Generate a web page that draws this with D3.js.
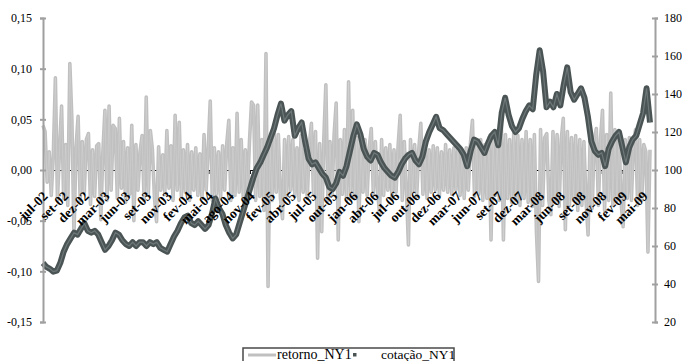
<!DOCTYPE html>
<html>
<head>
<meta charset="utf-8">
<script src="https://cdn.jsdelivr.net/npm/d3@7/dist/d3.min.js"></script>
<style>
  body { margin: 0; background: #fff; }
  svg text { font-family: "Liberation Serif", "Times New Roman", "DejaVu Serif", serif; }
</style>
</head>
<body>
<svg id="chart" width="682" height="361"></svg>
<script>
// category labels, one every 60 trading days
const labels = ["jul-02", "set-02", "dez-02", "mar-03", "jun-03", "set-03", "nov-03", "fev-04",
  "mai-04", "ago-04", "nov-04", "fev-05", "abr-05", "jul-05", "out-05", "jan-06", "abr-06",
  "jul-06", "out-06", "dez-06", "mar-07", "jun-07", "set-07", "dez-07", "mar-08", "jun-08",
  "set-08", "nov-08", "fev-09", "mai-09"];
const labelStep = 60;
const priceStep = 10; // cotacao read every 10 trading days

// cotação_NY1 (right axis)
const cotacao = [51, 49, 48, 46.5, 47, 51, 57, 61, 64, 67,
  66, 69, 72, 68, 67, 68, 66, 62, 58, 60,
  63, 67, 66, 63, 61, 60, 62, 60, 62, 62,
  60, 62, 61, 62, 59, 58, 57, 61, 65, 68,
  72, 75, 76, 72, 71, 73, 71, 69, 71, 77,
  85, 80, 77, 71, 67, 64, 66, 72, 78, 84,
  90, 96, 101, 104, 108, 112, 117, 122, 129, 135,
  126, 129, 131, 118, 122, 125, 115, 106, 103, 104,
  101, 98, 96, 91, 90, 93, 99, 97, 102, 110,
  118, 124, 119, 111, 107, 105, 109, 108, 104, 101,
  99, 97, 96, 99, 103, 106, 108, 109, 105, 103,
  107, 115, 120, 124, 128, 122, 121, 119, 117, 115,
  113, 111, 108, 102, 110, 116, 115, 112, 109, 114,
  118, 120, 113, 130, 138, 129, 123, 120, 122, 127,
  131, 134, 132, 150, 163, 152, 133, 136, 133, 140,
  134, 145, 154, 141, 137, 140, 143, 138, 128, 115,
  110, 108, 109, 102, 111, 115, 118, 120, 112, 104,
  112, 116, 118, 124, 130, 143, 125];

// retorno_NY1 (left axis), read over the same period
const retorno = [0.044, 0.038, -0.012, 0.018, -0.025, 0.015, 0.091, -0.03, 0.02, 0.063,
  -0.028, 0.025, -0.035, 0.105, 0.049, -0.065, 0.022, 0.053, -0.03, 0.028,
  -0.022, 0.03, 0.036, -0.034, 0.02, -0.026, 0.024, 0.026, -0.049, 0.018,
  0.059, -0.03, 0.063, -0.02, 0.044, 0.041, -0.028, 0.051, -0.018, 0.028,
  -0.032, 0.022, -0.024, 0.044, -0.05, 0.025, -0.02, 0.018, 0.034, -0.03,
  0.072, -0.025, 0.039, 0.02, -0.028, -0.051, 0.023, -0.02, 0.015, -0.024,
  0.039, -0.018, 0.024, -0.03, 0.054, -0.02, 0.047, -0.026, 0.02, -0.022,
  0.025, -0.03, 0.018, -0.02, 0.022, -0.025, 0.016, -0.028, 0.035, -0.02,
  0.02, 0.068, -0.03, 0.022, -0.024, 0.018, -0.028, 0.024, -0.02, 0.026,
  0.049, -0.03, 0.022, -0.025, 0.056, -0.022, 0.03, -0.028, 0.02, -0.024,
  0.028, 0.067, 0.064, -0.03, 0.064, -0.026, 0.03, -0.04, 0.115, -0.115,
  0.025, -0.03, 0.04, -0.022, 0.035, -0.028, -0.048, 0.03, -0.025, 0.033,
  -0.02, 0.03, -0.026, 0.022, -0.03, 0.034, -0.022, 0.02, -0.028, 0.025,
  0.046, -0.024, 0.038, -0.087, 0.026, -0.061, 0.03, 0.084, -0.03, 0.028,
  -0.025, 0.035, 0.066, -0.069, 0.03, -0.024, 0.04, -0.03, 0.087, -0.026,
  0.059, -0.028, 0.032, -0.051, 0.026, -0.022, 0.03, -0.025, 0.022, 0.041,
  -0.024, 0.028, -0.02, -0.043, 0.03, -0.025, 0.022, -0.02, 0.025, -0.028,
  0.02, -0.022, 0.024, 0.054, -0.03, 0.028, -0.02, -0.074, 0.03, -0.022,
  0.025, -0.026, 0.02, 0.046, -0.024, 0.022, -0.028, 0.02, -0.022, 0.024,
  -0.02, 0.022, -0.026, 0.018, -0.02, 0.025, -0.022, 0.02, -0.024, 0.022,
  -0.02, 0.024, -0.025, 0.02, -0.028, 0.022, -0.02, 0.026, 0.049, -0.026,
  0.028, -0.024, 0.03, -0.03, 0.025, -0.028, 0.032, -0.069, 0.03, -0.025,
  0.028, -0.03, 0.046, -0.069, 0.035, -0.028, 0.03, -0.032, 0.036, -0.03,
  0.034, -0.035, 0.03, -0.028, 0.038, -0.032, 0.03, -0.036, 0.035, -0.061,
  -0.11, 0.04, -0.035, 0.032, 0.036, -0.03, -0.044, 0.038, -0.032, 0.035,
  -0.036, 0.03, 0.051, -0.059, 0.038, -0.035, 0.032, -0.03, 0.034, -0.04,
  0.03, -0.035, 0.028, -0.03, -0.064, 0.032, -0.038, 0.03, 0.041, -0.035,
  0.03, 0.059, -0.04, 0.035, -0.03, 0.076, -0.035, 0.04, -0.03, 0.035,
  -0.032, -0.056, 0.03, -0.028, 0.032, -0.03, 0.028, 0.04, -0.035, 0.03,
  -0.03, 0.025, 0.018, -0.081, 0.02];

const leftTicks = [0.15, 0.10, 0.05, 0, -0.05, -0.10, -0.15];
const rightTicks = [180, 160, 140, 120, 100, 80, 60, 40, 20];

const serif = "'Liberation Serif', 'Times New Roman', 'DejaVu Serif', serif";
const svg = d3.select("#chart").attr("font-family", serif);
const totalDays = (cotacao.length - 1) * priceStep;

const x = d3.scaleLinear().domain([0, totalDays]).range([43, 650]);
const yL = d3.scaleLinear().domain([-0.15, 0.15]).range([322, 18]);
const yR = d3.scaleLinear().domain([20, 180]).range([322, 18]);

const fmt = d => d3.format(".2f")(d).replace(".", ",").replace("\u2212", "-");
const tickDays = labels.map((d, i) => i * labelStep);

// category axis line + ticks (behind the series)
const xAxis = svg.append("g")
  .attr("transform", "translate(0," + yL(0) + ")")
  .call(d3.axisBottom(x).tickValues(tickDays).tickSize(4).tickFormat(""));
xAxis.select(".domain").attr("stroke", "#000").attr("stroke-width", 1);
xAxis.selectAll(".tick line").attr("stroke", "#000");

// retorno
const retDay = (d, i) => i * totalDays / (retorno.length - 1);
const retLine = d3.line().x((d, i) => x(retDay(d, i))).y(d => yL(d));
svg.append("path").datum(retorno)
  .attr("d", retLine)
  .attr("fill", "none")
  .attr("stroke", "#c0c0c0")
  .attr("stroke-width", 3.6)
  .attr("stroke-linejoin", "round");
svg.append("path").datum(retorno)
  .attr("d", retLine)
  .attr("fill", "none")
  .attr("stroke", "#fff")
  .attr("stroke-opacity", 0.2)
  .attr("stroke-width", 0.8);

// cotação
const priceLine = d3.line().x((d, i) => x(i * priceStep)).y(d => yR(d));
svg.append("path").datum(cotacao)
  .attr("d", priceLine)
  .attr("fill", "none")
  .attr("stroke", "#4b5454")
  .attr("stroke-width", 6)
  .attr("stroke-linejoin", "round");
svg.append("path").datum(cotacao)
  .attr("d", priceLine)
  .attr("fill", "none")
  .attr("stroke", "#6f7878")
  .attr("stroke-width", 1.2);

// left axis
const left = svg.append("g")
  .attr("transform", "translate(43,0)")
  .call(d3.axisLeft(yL).tickValues(leftTicks).tickSize(3).tickPadding(8).tickFormat(fmt))
  .attr("font-family", serif).attr("font-size", 12);
left.select(".domain").attr("stroke", "#a0a0a0").attr("stroke-width", 2);
left.selectAll(".tick line").attr("stroke", "#a0a0a0").attr("stroke-width", 2).attr("x2", -3).attr("x1", 3);
left.selectAll(".tick text").attr("fill", "#000");

// right axis
const right = svg.append("g")
  .attr("transform", "translate(655,0)")
  .call(d3.axisRight(yR).tickValues(rightTicks).tickSize(3).tickPadding(6))
  .attr("font-family", serif).attr("font-size", 12);
right.select(".domain").attr("stroke", "#a0a0a0").attr("stroke-width", 2);
right.selectAll(".tick line").attr("stroke", "#a0a0a0").attr("stroke-width", 2).attr("x1", -3).attr("x2", 3);
right.selectAll(".tick text").attr("fill", "#000");

// category labels on top
const xLab = svg.append("g")
  .attr("transform", "translate(0," + yL(0) + ")")
  .call(d3.axisBottom(x).tickValues(tickDays).tickSize(0).tickFormat((d, i) => labels[i]))
  .attr("font-family", serif).attr("font-size", 13.5).attr("font-weight", "bold");
xLab.select(".domain").remove();
xLab.selectAll(".tick text")
  .attr("x", 0).attr("y", 0).attr("dy", 0)
  .attr("text-anchor", "end")
  .attr("transform", "translate(5,27) rotate(-45)")
  .attr("fill", "#000");

// legend
const lg = svg.append("g").attr("font-family", serif);
lg.append("rect").attr("x", 243).attr("y", 348).attr("width", 211).attr("height", 20)
  .attr("fill", "#fff").attr("stroke", "#4a4a4a").attr("stroke-width", 1.5);
lg.append("line").attr("x1", 248).attr("x2", 276).attr("y1", 355).attr("y2", 355)
  .attr("stroke", "#c0c0c0").attr("stroke-width", 3);
lg.append("text").attr("x", 277).attr("y", 359).attr("font-size", 14).text("retorno_NY1");
lg.append("rect").attr("x", 353).attr("y", 353).attr("width", 3.5).attr("height", 3.5)
  .attr("fill", "#4b5454");
lg.append("text").attr("x", 381).attr("y", 359).attr("font-size", 13.5).text("cotação_NY1");
</script>
</body>
</html>
